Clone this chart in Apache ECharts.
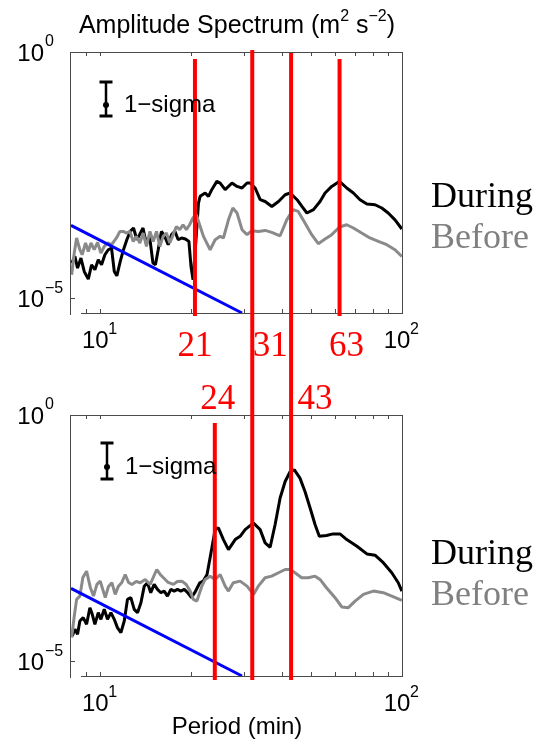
<!DOCTYPE html>
<html><head><meta charset="utf-8">
<script src="https://cdn.jsdelivr.net/npm/echarts@6/dist/echarts.min.js"></script>
<style>html,body{margin:0;padding:0;background:#fff}#c{width:548px;height:742px}</style>
</head><body><div id="c"></div>
<script>
// ---------- data (period in minutes, amplitude in m^2 s^-2) ----------
const duringTopX = [8.04,8.24,8.41,8.63,8.85,9.13,9.36,9.60,9.85,10.10,10.36,10.63,10.90,11.13,11.35,11.65,11.94,12.25,12.57,12.89,13.23,13.50,13.86,14.20,14.57,14.95,15.24,15.56,15.95,16.36,16.79,17.23,17.68,18.13,18.60,19.16,19.67,19.99,20.30,20.8,21.16,21.43,22.27,22.84,23.42,24.34,24.97,25.94,27.33,28.40,29.50,30.65,31.39,32.61,33.88,35.19,37.04,38.97,41.0,42.6,44.9,46.6,48.4,50.9,53.5,55.6,58.5,62.1,65.6,69.0,72.6,76.5,81.4,85.7,90.0,94.8,99.9];
const duringTopY = [5.17e-5,7.04e-5,4.09e-5,6.53e-5,3.49e-5,2.44e-5,4.77e-5,3.78e-5,6.03e-5,4.77e-5,7.62e-5,9.64e-5,1.04e-4,3.49e-5,2.85e-5,5.57e-5,9.64e-5,1.54e-4,2.27e-4,2.66e-4,1.54e-4,1.95e-4,2.66e-4,1.32e-4,1.80e-4,5.17e-5,4.77e-5,9.64e-5,2.27e-4,1.80e-4,1.22e-4,1.95e-4,2.27e-4,1.54e-4,1.67e-4,1.59e-4,1.42e-4,4.41e-5,2.36e-5,1.8e-4,8.5e-4,1.17e-3,1.37e-3,1.17e-3,1.60e-3,2.36e-3,2.18e-3,1.60e-3,2.18e-3,1.86e-3,1.73e-3,2.18e-3,2.18e-3,1.73e-3,1.0e-3,9.2e-4,7.3e-4,9.2e-4,1.26e-3,1.37e-3,1.0e-3,7.3e-4,5.37e-4,6.3e-4,9.2e-4,1.37e-3,1.86e-3,2.36e-3,1.73e-3,1.37e-3,1.0e-3,8.2e-4,7.9e-4,6.78e-4,5.37e-4,3.9e-4,2.54e-4];

const beforeTopX = [8.04,8.20,8.35,8.56,8.71,8.94,9.13,9.32,9.55,9.80,10.05,10.31,10.57,10.90,11.32,11.62,11.92,12.22,12.54,12.86,13.19,13.53,13.88,14.23,14.61,14.98,15.36,15.76,16.16,16.57,17.00,17.44,17.88,18.34,18.81,19.29,19.78,20.28,20.80,21.98,23.13,24.03,24.97,25.6,26.6,27.5,28.4,29.5,30.65,31.8,33.4,35.19,37.0,39.45,41.5,43.6,45.3,47.7,50.2,52.8,55.6,58.5,62.1,65.6,69.0,73.5,78.3,83.5,89.0,94.8,99.9];
const beforeTopY = [2.99e-5,8.26e-5,1.67e-4,9.64e-5,7.62e-5,1.32e-4,8.9e-5,1.32e-4,9.64e-5,1.36e-4,8.26e-5,1.12e-4,1.32e-4,1.22e-4,1.67e-4,2.27e-4,2.27e-4,2.10e-4,2.27e-4,1.42e-4,1.80e-4,1.32e-4,2.10e-4,1.12e-4,2.27e-4,1.42e-4,2.27e-4,1.12e-4,1.80e-4,2.10e-4,1.32e-4,1.95e-4,2.86e-4,2.46e-4,3.1e-4,2.46e-4,3.1e-4,4.25e-4,5.0e-4,1.80e-4,9.64e-5,1.54e-4,1.80e-4,1.67e-4,3.9e-4,6.78e-4,5.37e-4,2.46e-4,1.95e-4,2.34e-4,2.27e-4,2.38e-4,2.17e-4,1.85e-4,3.9e-4,6.3e-4,5.78e-4,3.36e-4,1.95e-4,1.28e-4,1.59e-4,1.95e-4,2.79e-4,3.1e-4,2.66e-4,2.10e-4,1.67e-4,1.42e-4,1.22e-4,9.64e-5,7.04e-5];

const duringBotX = [8.08,8.24,8.41,8.56,8.78,9.01,9.24,9.41,9.60,9.85,10.05,10.31,10.57,10.85,11.13,11.40,11.71,12.01,12.31,12.63,12.96,13.29,13.64,13.99,14.34,14.70,15.09,15.48,15.88,16.29,16.70,17.14,17.58,18.03,18.49,18.98,19.48,20.05,20.56,21.38,21.93,22.59,23.44,24.03,24.63,25.6,26.6,28.0,29.08,30.21,32.2,33.88,35.19,36.56,37.98,39.45,41.0,42.6,44.0,45.9,47.7,49.6,51.5,53.2,56.2,59.1,62.3,65.6,70.9,76.5,81.4,86.7,92.5,97.2,99.9];
const duringBotY = [3.25e-5,4.45e-5,3.52e-5,6.55e-5,7.67e-5,5.61e-5,1.22e-4,8.94e-5,5.61e-5,9.68e-5,7.08e-5,1.13e-4,7.08e-5,9.68e-5,7.08e-5,4.81e-5,3.81e-5,6.55e-5,1.80e-4,1.95e-4,1.13e-4,9.68e-5,1.54e-4,3.34e-4,3.92e-4,2.46e-4,3.62e-4,2.87e-4,2.46e-4,2.65e-4,2.10e-4,2.87e-4,2.65e-4,2.87e-4,2.65e-4,2.87e-4,2.46e-4,1.95e-4,2.46e-4,3.92e-4,4.22e-4,5.77e-4,2.0e-3,4.70e-3,5.09e-3,2.95e-3,1.85e-3,2.95e-3,3.44e-3,4.70e-3,6.42e-3,4.70e-3,2.53e-3,2.06e-3,5.96e-3,2.06e-2,4.47e-2,7.11e-2,7.71e-2,5.23e-2,2.80e-2,1.29e-2,5.96e-3,3.44e-3,3.56e-3,3.85e-3,3.85e-3,2.95e-3,2.16e-3,1.51e-3,1.42e-3,1.0e-3,6.25e-4,3.92e-4,2.65e-4];

const beforeBotX = [8.04,8.20,8.35,8.56,8.76,9.01,9.27,9.50,9.75,10.0,10.39,10.65,10.93,11.21,11.49,11.79,12.10,12.41,12.73,13.16,13.57,14.09,14.64,15.39,15.80,16.20,16.79,17.49,18.0,18.65,19.27,19.86,20.35,20.9,21.71,22.27,23.13,24.03,24.97,25.94,26.6,27.6,29.08,30.65,32.2,33.4,35.19,37.0,38.97,41.0,42.6,44.2,46.5,48.9,51.5,53.5,56.2,60.0,63.2,66.4,69.9,74.5,80.3,86.7,92.5,99.9];
const beforeBotY = [3.02e-5,8.15e-5,1.80e-4,2.10e-4,5.01e-4,6.73e-4,3.15e-4,2.10e-4,3.62e-4,4.22e-4,1.95e-4,3.30e-4,3.92e-4,2.27e-4,3.34e-4,3.97e-4,5.77e-4,3.97e-4,3.62e-4,4.16e-4,3.92e-4,4.57e-4,3.62e-4,7.28e-4,5.77e-4,4.94e-4,3.97e-4,3.62e-4,4.16e-4,4.22e-4,3.62e-4,2.65e-4,1.80e-4,1.66e-4,3.34e-4,4.57e-4,5.33e-4,4.57e-4,5.77e-4,3.34e-4,2.65e-4,3.92e-4,4.22e-4,3.34e-4,2.27e-4,3.34e-4,4.94e-4,5.33e-4,6.25e-4,7.28e-4,7.28e-4,6.25e-4,4.94e-4,4.94e-4,5.33e-4,4.57e-4,3.10e-4,1.95e-4,1.26e-4,1.22e-4,1.66e-4,2.27e-4,2.65e-4,2.46e-4,2.10e-4,1.72e-4];

// reference slope line
const slopeX = [8.0, 29.5];
const slopeY = [3.0e-4, 5.0e-6];

// marked periods (value, label)
const topMarkPeriods = [20.6, 62.1];   const topMarkLabels = ['21', '63'];
const sharedMarkPeriods = [31.9, 42.9]; const sharedMarkLabels = ['31', '43'];
const botMarkPeriods = [23.97];        const botMarkLabels = ['24'];

// axis ticks / labels
const xTickValues = [9, 10, 20, 30, 40, 50, 60, 70, 80, 90];
const xLabelValues = [10, 100]; const xLabelExp = ['1', '2'];
const yLabelValues = [1, 1e-5]; const yLabelExp = ['0', '\u22125'];

// ---------- chart ----------
const pairs = (xs, ys) => xs.map((x, i) => [x, ys[i]]);
const GRID = [{left: 71, top: 52, width: 331, height: 261}, {left: 71, top: 415, width: 331, height: 261}];
const BLACK = '#000', GRAY = '#8a8a8a', RED = '#ff0000', BLUE = '#0000ff';
const SANS = 'Liberation Sans', SERIF = 'Liberation Serif';

function lineSeries(gi, data, color, w, z) {
  return {type: 'line', xAxisIndex: gi, yAxisIndex: gi, data: data, showSymbol: false, symbol: 'none',
          lineStyle: {color: color, width: w}, z: z, clip: true, silent: true};
}

const chart = echarts.init(document.getElementById('c'), null, {renderer: 'canvas'});
chart.setOption({
  animation: false,
  backgroundColor: '#fff',
  grid: GRID,
  xAxis: [0, 1].map(i => ({type: 'log', gridIndex: i, min: 8, max: 100, axisLine: {show: false}, axisTick: {show: false}, axisLabel: {show: false}, splitLine: {show: false}})),
  yAxis: [0, 1].map(i => ({type: 'log', gridIndex: i, min: 5.0e-6, max: 1, axisLine: {show: false}, axisTick: {show: false}, axisLabel: {show: false}, splitLine: {show: false}})),
  series: [
    lineSeries(0, pairs(duringTopX, duringTopY), BLACK, 3, 2),
    lineSeries(0, pairs(beforeTopX, beforeTopY), GRAY, 3, 3),
    lineSeries(0, pairs(slopeX, slopeY), BLUE, 3, 4),
    lineSeries(1, pairs(duringBotX, duringBotY), BLACK, 3, 2),
    lineSeries(1, pairs(beforeBotX, beforeBotY), GRAY, 3, 3),
    lineSeries(1, pairs(slopeX, slopeY), BLUE, 3, 4)
  ]
});

const P = (gi, x, y) => chart.convertToPixel({gridIndex: gi}, [x, y]);
const g = [];
const ln = (x1, y1, x2, y2, stroke, w, z) => g.push({type: 'line', z: z || 20, silent: true,
  shape: {x1: x1, y1: y1, x2: x2, y2: y2}, style: {stroke: stroke, lineWidth: w}});
const tx = (x, y, text, size, fam, fill, align, valign) => g.push({type: 'text', z: 30, silent: true, x: x, y: y,
  style: {text: text, fontSize: size, fontFamily: fam, fill: fill, align: align || 'left', verticalAlign: valign || 'middle'}});

const FRAME = '#4a4a4a';
GRID.forEach((gr, gi) => {
  const L = gr.left, T = gr.top, R = gr.left + gr.width, B = gr.top + gr.height;
  ln(L - 0.5, T, L - 0.5, B + 2, FRAME, 1);
  ln(L - 0.5, T + 0.5, R, T + 0.5, FRAME, 1);
  ln(R + 0.5, T, R + 0.5, B + 1, FRAME, 1);
  ln(L + 10, B + 0.5, R + 0.5, B + 0.5, FRAME, 1);
  xTickValues.forEach(v => {
    const p = Math.round(P(gi, v, 1)[0]) + 0.5;
    ln(p, B, p, B - 4, FRAME, 1);
    ln(p, T, p, T + 4, FRAME, 1);
  });
  const yt = Math.round(P(gi, 10, 1e-5)[1]) + 0.5;
  ln(L, yt, L + 4, yt, FRAME, 1);
  xLabelValues.forEach((v, k) => {
    const p = P(gi, v, 1)[0];
    tx(p - 5, B + 28, '10', 24, SANS, '#000', 'center');
    tx(p + 8, B + 17, xLabelExp[k], 16, SANS, '#000', 'left');
  });
  yLabelValues.forEach((v, k) => {
    const py = P(gi, 10, v)[1];
    tx(44, py + 2, '10', 24, SANS, '#000', 'right');
    tx(45, py - 10, yLabelExp[k], 16, SANS, '#000', 'left');
  });
  // 1-sigma indicator
  const eb = gi === 0 ? {x: 106, t: 82, b: 116, d: 105} : {x: 107, t: 443, b: 479, d: 467};
  ln(eb.x, eb.t, eb.x, eb.b, '#000', 2.5);
  ln(eb.x - 6.5, eb.t, eb.x + 6.5, eb.t, '#000', 3);
  ln(eb.x - 6.5, eb.b, eb.x + 6.5, eb.b, '#000', 3);
  g.push({type: 'circle', z: 30, silent: true, shape: {cx: eb.x, cy: eb.d, r: 3}, style: {fill: '#000'}});
  tx(eb.x + 18, eb.d, '1\u2212sigma', 24, SANS, '#000', 'left');
  // legend words
  const ly = gi === 0 ? [198, 239] : [555, 596];
  tx(431, ly[0], 'During', 36, SERIF, '#000', 'left');
  tx(431, ly[1], 'Before', 36, SERIF, '#808080', 'left');
});

// red period markers
topMarkPeriods.forEach((v, k) => {
  const p = P(0, v, 1)[0];
  ln(p, 59, p, 316, RED, 4, 25);
  tx(p + (k === 0 ? 0 : 7), 347, topMarkLabels[k], 35, SERIF, RED, 'center');
});
sharedMarkPeriods.forEach((v, k) => {
  const p = P(0, v, 1)[0];
  ln(p, k === 0 ? 50 : 53, p, 680, RED, 4, 25);
  if (k === 0) tx(p + 18, 347, sharedMarkLabels[k], 35, SERIF, RED, 'center');
  else tx(p + 24, 400, sharedMarkLabels[k], 35, SERIF, RED, 'center');
});
botMarkPeriods.forEach((v, k) => {
  const p = P(1, v, 1)[0];
  ln(p, 423, p, 680, RED, 4, 25);
  tx(p + 3, 400, botMarkLabels[k], 35, SERIF, RED, 'center');
});

// title and axis name
g.push({type: 'text', z: 30, silent: true, x: 237, y: 26, style: {
  text: '{t|Amplitude Spectrum (m}{s|2}{t| s}{s|\u22122}{t|)}', align: 'center', verticalAlign: 'middle',
  rich: {t: {fontSize: 25, fontFamily: SANS, fill: '#000', lineHeight: 34},
         s: {fontSize: 16, fontFamily: SANS, fill: '#000', lineHeight: 16, verticalAlign: 'top'}}}});
tx(237, 727, 'Period (min)', 24, SANS, '#000', 'center');

chart.setOption({graphic: {elements: g}});
</script>
</body></html>
